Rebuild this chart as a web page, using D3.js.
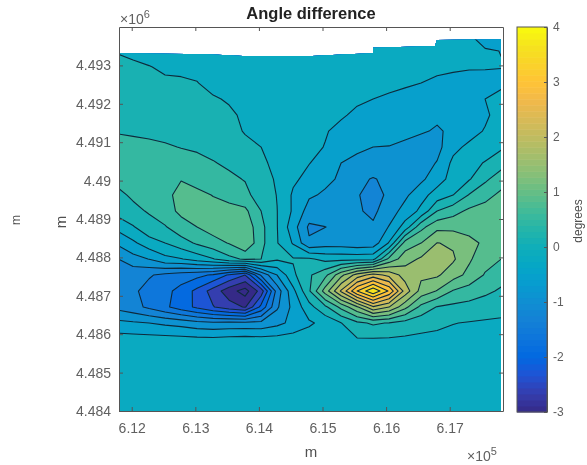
<!DOCTYPE html>
<html>
<head>
<meta charset="utf-8">
<script src="https://cdn.jsdelivr.net/npm/d3@7"></script>
<style>
  html, body { margin: 0; padding: 0; background: #fff; }
  svg { display: block; font-family: "Liberation Sans", Arial, sans-serif; filter: blur(0.35px); }
  .axis path, .axis line { stroke: #555; stroke-width: 1; }
  .axis text { fill: #606060; font-size: 14px; font-family: "Liberation Sans", Arial, sans-serif; }
  .cbar text { font-size: 12px; }
</style>
</head>
<body>
<svg id="chart"></svg>
<script>
var width = 587;
var height = 465;

// grid of the angle difference (degrees), top row first
var gridX0 = 611770;
var gridDx = 251.6;
var gridY0 = 4493790;
var gridDy = 416.67;
var zRows = [
  [.14,.1,.05,.03,.02,.01,0,-.01,-.01,-.01,-.01,-.01,-.01,-.01,-.01,-.01,-.02,-.03,-.05,-.06,-.07,-.09,-.18,-.35,-.4],
  [.14,.1,.05,.03,.02,.01,0,-.01,-.01,-.01,-.01,-.01,-.01,-.01,-.01,-.02,-.02,-.03,-.05,-.06,-.07,-.07,-.08,-.17,-.205],
  [.2,.19,.16,.11,.09,.07,.05,.04,.02,0,-.01,-.01,-.02,-.02,-.03,-.04,-.05,-.07,-.09,-.11,-.13,-.15,-.17,-.18,-.19],
  [.27,.25,.23,.19,.19,.16,.06,.05,.02,0,-.01,-.02,-.03,-.04,-.06,-.09,-.12,-.15,-.17,-.2,-.26,-.3,-.33,-.3,-.3],
  [.33,.31,.29,.27,.25,.22,.18,.12,.05,.02,0,-.02,-.04,-.06,-.1,-.16,-.2,-.23,-.27,-.31,-.36,-.38,-.4,-.2,-.05],
  [.4,.39,.37,.35,.33,.3,.28,.2,.1,.03,-.01,-.04,-.07,-.1,-.17,-.25,-.3,-.33,-.38,-.44,-.5,-.47,-.42,-.27,-.03],
  [.48,.46,.44,.42,.4,.36,.32,.24,.13,.05,-.02,-.06,-.11,-.18,-.27,-.36,-.42,-.42,-.46,-.52,-.58,-.5,-.35,-.17,0],
  [.6,.58,.56,.53,.49,.46,.4,.32,.22,.15,-.03,-.08,-.13,-.21,-.4,-.47,-.55,-.56,-.62,-.68,-.66,-.3,-.12,0,.1],
  [.68,.7,.7,.67,.62,.58,.52,.44,.32,.2,.08,-.1,-.19,-.33,-.55,-.66,-.72,-.72,-.73,-.7,-.53,-.12,.05,.17,.35],
  [.58,.64,.72,.78,.83,.75,.68,.57,.48,.25,.12,-.14,-.3,-.47,-.6,-.83,-.92,-.83,-.78,-.62,-.35,-.07,.12,.43,.7],
  [.42,.55,.66,.72,1,.92,.84,.75,.6,.32,.14,-.25,-.5,-.6,-.74,-.88,-1,-.85,-.62,-.32,-.05,.15,.52,.75,.92],
  [.28,.42,.53,.72,.92,.98,.95,.95,.93,.5,.155,-.25,-.7,-.72,-.78,-.86,-.97,-.72,-.42,-.12,.5,.72,.92,.97,1],
  [-.1,.12,.38,.47,.72,.85,1,1.1,1.1,.6,.16,-.4,-.96,-.905,-.82,-.85,-.85,-.53,-.05,.75,1.1,1.1,1.1,1.08,1.05],
  [-.5,-.27,0,.15,.35,.55,.72,.87,1.17,.6,.17,-.23,-.85,-.72,-.72,-.78,-.75,-.17,1,1.2,1.56,1.5,1.28,1.15,1],
  [-.92,-.68,-.54,-.3,-.22,-.05,.13,.4,.55,.5,.2,.18,.2,.05,.03,.03,.05,.95,1.4,1.6,1.68,1.6,1.25,.98,.85],
  [-1.1,-1.15,-1.22,-1.33,-1.42,-1.5,-1.65,-2,-2.3,-1.2,-.55,.08,.45,.75,1.45,2.05,2.4,2.15,1.75,1.62,1.6,1.35,1.1,.82,.65],
  [-1.15,-1.2,-1.35,-1.5,-1.72,-2.05,-2.45,-2.85,-3.15,-2.5,-1.1,-.3,.45,1.35,2.3,3.3,3.95,3.25,2.1,1.42,1.18,.82,.7,.58,.45],
  [-1,-1.13,-1.32,-1.53,-1.78,-2.02,-2.28,-2.5,-2.68,-1.85,-.95,-.45,.02,.42,.95,1.5,2.2,1.9,1.3,.75,.48,.42,.38,.3,.25],
  [-.45,-.5,-.55,-.62,-.68,-.78,-.82,-.8,-.8,-.8,-.65,-.45,-.25,-.1,.14,.42,.55,.48,.36,.27,.22,.16,.13,.11,.1],
  [-.05,-.06,-.07,-.08,-.1,-.12,-.13,-.1,-.08,-.1,-.08,-.05,-.03,.02,.09,.13,.13,.12,.1,.08,.07,.05,.04,.03,.03],
  [-.02,-.02,-.02,-.03,-.03,-.03,-.03,-.03,-.02,-.02,-.02,-.01,0,.01,.02,.03,.03,.03,.02,.02,.01,.01,.01,0,0],
  [-.01,-.01,-.01,-.01,-.01,-.01,-.01,-.01,-.01,-.01,0,0,0,0,.01,.01,.01,.01,.01,.01,0,0,0,0,0],
  [0,0,0,0,0,0,0,0,0,0,0,0,0,0,0,0,0,0,0,0,0,0,0,0,0],
  [0,0,0,0,0,0,0,0,0,0,0,0,0,0,0,0,0,0,0,0,0,0,0,0,0],
  [0,0,0,0,0,0,0,0,0,0,0,0,0,0,0,0,0,0,0,0,0,0,0,0,0]
];

// contour levels, the first one only paints the background
var levels = [-3.35, -3, -2.65, -2.3, -1.95, -1.6, -1.25, -0.9, -0.55, -0.2, 0.15, 0.5, 0.85, 1.2, 1.55, 1.9, 2.25, 2.6, 2.95, 3.3, 3.65];

// where the data stops, in metres
var edgeX = [611816, 613184, 613750, 614835, 615400, 615794, 615794, 616769, 616800, 617806, 617806, 611816];
var edgeY = [4493315, 4493289, 4493245, 4493245, 4493289, 4493315, 4493461, 4493505, 4493661, 4493680, 4484000, 4484000];

var xTicks = [612000, 613000, 614000, 615000, 616000, 617000];
var xTickLabels = ["6.12", "6.13", "6.14", "6.15", "6.16", "6.17"];
var yTicks = [4484000, 4485000, 4486000, 4487000, 4488000, 4489000, 4490000, 4491000, 4492000, 4493000];
var yTickLabels = ["4.484", "4.485", "4.486", "4.487", "4.488", "4.489", "4.49", "4.491", "4.492", "4.493"];
var cbTicks = [-3, -2, -1, 0, 1, 2, 3, 4];

var parula = ["#352a87", "#353dad", "#2053d4", "#0268e1", "#0d75dc", "#1481d6", "#108ed2", "#079ccf", "#06a7c6", "#0faeb9", "#25b5a9",
  "#42bb98", "#65be86", "#87bf77", "#a5be6b", "#c0bc60", "#d9ba56", "#f1b94a", "#ffc337", "#fad32a", "#f5e41d", "#f9fb0e"];

var svg = d3.select("#chart")
    .attr("width", width)
    .attr("height", height);

var xScale = d3.scaleLinear()
    .domain([611800, 617838])
    .range([119, 503]);

var yScale = d3.scaleLinear()
    .domain([4484000, 4494000])
    .range([411, 27]);

var color = d3.scaleSequential(d3.piecewise(d3.interpolateRgb, parula))
    .domain([-3, 4])
    .clamp(true);

// data area
svg.append("clipPath")
    .attr("id", "data-clip")
  .append("path")
    .attr("d", d3.line()(edgeX.map(function(d, i) { return [xScale(d), yScale(edgeY[i])]; })) + "Z");

var numRows = zRows.length;
var numCols = zRows[0].length;
var values = zRows.reduce(function(a, b) { return a.concat(b); }, []);

var contours = d3.contours()
    .size([numCols, numRows])
    .thresholds(levels)(values);

// contour coordinates are grid cells, so go through metres to the scales
var path = d3.geoPath(d3.geoTransform({
  point: function(cx, cy) {
    this.stream.point(xScale(gridX0 + (cx - 0.5) * gridDx), yScale(gridY0 - (cy - 0.5) * gridDy));
  }
}));

var plot = svg.append("g").attr("clip-path", "url(#data-clip)");

plot.append("rect")
    .attr("x", 100).attr("y", 20).attr("width", 420).attr("height", 400)
    .attr("fill", color(levels[0]));

plot.selectAll("path")
    .data(contours)
    .enter()
    .append("path")
    .attr("d", path)
    .attr("fill", function(d) { return color(d.value); })
    .attr("stroke", "#0e2a3c")
    .attr("stroke-width", 1.1)
    .attr("stroke-linejoin", "round");

// axes box, ticks point inward on all four sides
svg.append("g")
    .attr("class", "axis")
    .attr("transform", "translate(0,411)")
    .call(d3.axisBottom(xScale).tickValues(xTicks).tickSizeInner(-4).tickSizeOuter(0).tickPadding(12)
      .tickFormat(function(d, i) { return xTickLabels[i]; }));

svg.append("g")
    .attr("class", "axis")
    .attr("transform", "translate(0,27)")
    .call(d3.axisTop(xScale).tickValues(xTicks).tickSizeInner(-4).tickSizeOuter(0).tickFormat(""));

svg.append("g")
    .attr("class", "axis")
    .attr("transform", "translate(119,0)")
    .call(d3.axisLeft(yScale).tickValues(yTicks).tickSizeInner(-4).tickSizeOuter(0).tickPadding(8)
      .tickFormat(function(d, i) { return yTickLabels[i]; }));

svg.append("g")
    .attr("class", "axis")
    .attr("transform", "translate(503,0)")
    .call(d3.axisRight(yScale).tickValues(yTicks).tickSizeInner(-4).tickSizeOuter(0).tickFormat(""));

// colorbar
var cbScale = d3.scaleLinear()
    .domain([-3, 4])
    .range([412, 27]);

var cbSteps = d3.range(64);

svg.selectAll("rect.step")
    .data(cbSteps)
    .enter()
    .append("rect")
    .attr("class", "step")
    .attr("x", 517)
    .attr("width", 30)
    .attr("y", function(d) { return cbScale(-3 + (d + 1) * 7 / 64); })
    .attr("height", function(d) { return cbScale(-3 + d * 7 / 64) - cbScale(-3 + (d + 1) * 7 / 64) + 0.5; })
    .attr("fill", function(d) { return color(-3 + (d + 0.5) * 7 / 64); });

svg.append("rect")
    .attr("x", 517).attr("y", 27).attr("width", 30).attr("height", 385)
    .attr("fill", "none").attr("stroke", "#555");

svg.append("g")
    .attr("class", "axis cbar")
    .attr("transform", "translate(547,0)")
    .call(d3.axisRight(cbScale).tickValues(cbTicks).tickSizeInner(-3).tickSizeOuter(0).tickPadding(6)
      .tickFormat(function(d) { return d; }));

// labels
function label(x, y, text, size, rotate) {
  var t = svg.append("text")
      .attr("text-anchor", "middle")
      .attr("font-size", size)
      .attr("fill", "#505050")
      .text(text);
  if (rotate) {
    t.attr("transform", "translate(" + x + "," + y + ") rotate(-90)");
  } else {
    t.attr("x", x).attr("y", y);
  }
  return t;
}

label(311, 19, "Angle difference", 16.5).attr("font-weight", "bold").attr("fill", "#222");
label(311, 457, "m", 15);
label(66, 222, "m", 15, true);
label(20, 220, "m", 12, true);
label(582, 221, "degrees", 12, true);

function power(x, y, exp) {
  var t = svg.append("text")
      .attr("x", x).attr("y", y)
      .attr("font-size", 14)
      .attr("fill", "#606060");
  t.append("tspan").text("\u00d710");
  t.append("tspan").attr("dy", -6).attr("font-size", 11).text(exp);
}

power(467, 461, "5");
power(120, 24, "6");

</script>
</body>
</html>
